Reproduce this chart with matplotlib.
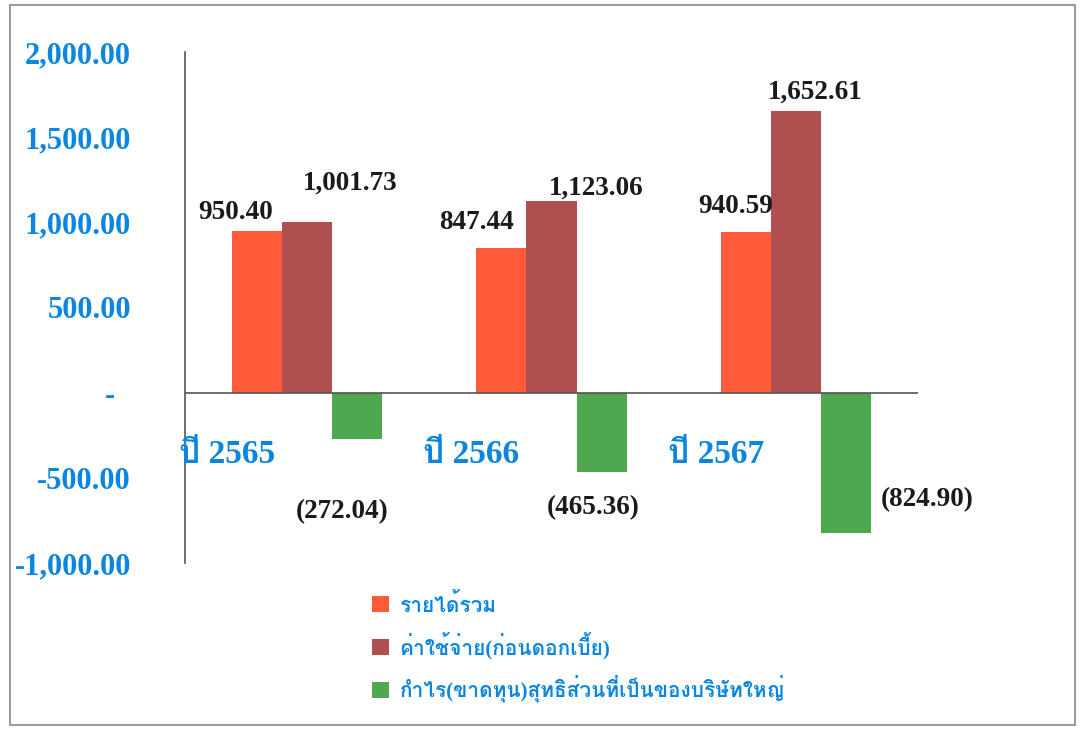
import matplotlib
matplotlib.use('Agg')
import matplotlib.pyplot as plt
from matplotlib import font_manager
from matplotlib.ft2font import FT2Font
from matplotlib.patches import Rectangle
import numpy as np

years = ['ปี 2565', 'ปี 2566', 'ปี 2567']
series_names = ['รายได้รวม', 'ค่าใช้จ่าย(ก่อนดอกเบี้ย)', 'กำไร(ขาดทุน)สุทธิส่วนที่เป็นของบริษัทใหญ่']
revenue = [950.40, 847.44, 940.59]
expense = [1001.73, 1123.06, 1652.61]
profit = [-272.04, -465.36, -824.90]
yticks = [-1000, -500, 0, 500, 1000, 1500, 2000]
ytick_labels = ['-1,000.00', '-500.00', '-  ', '500.00', '1,000.00', '1,500.00', '2,000.00']

colors = ['#ff5a3a', '#b04f4f', '#4fa84f']
blue = '#0a86e0'

# find something that can draw thai
thai_fonts = []
for f in font_manager.fontManager.ttflist:
    try:
        if 0x0E1B in FT2Font(f.fname).get_charmap() and f.name not in thai_fonts:
            thai_fonts.append(f.name)
    except Exception:
        pass
fam = ['Liberation Serif'] + thai_fonts[:1] + ['DejaVu Sans']

fig = plt.figure(figsize=(10.8, 7.29), dpi=100)
ax = fig.add_axes([0.1713, 0.2277, 0.6787, 0.701])

x = np.arange(len(years))
w = 0.205
ax.bar(x - w, revenue, w, color=colors[0], label=series_names[0])
ax.bar(x, expense, w, color=colors[1], label=series_names[1])
ax.bar(x + w, profit, w, color=colors[2], label=series_names[2])

ax.set_xlim(-0.5, 2.5)
ax.set_ylim(-1000, 2000)
ax.axhline(0, color='#555555', lw=1.2)
for s in ['top', 'right', 'bottom']:
    ax.spines[s].set_visible(False)
ax.spines['left'].set_color('#555555')
ax.spines['left'].set_linewidth(1.2)
ax.set_xticks([])
ax.set_yticks(yticks)
ax.set_yticklabels(ytick_labels, fontfamily=fam, fontweight='bold', fontsize=22, color=blue)
ax.tick_params(axis='y', length=0, pad=39)

# label offsets in pixels (labels were nudged by hand in the original)
rev_off = [(-21, 18), (-25, 26), (-10, 26)]
exp_off = [(43, 39), (45, 13), (19, 19)]
pro_off = [(-15, -119), (-8, -115), (81, -107)]
k = 0.72
lbl = dict(fontfamily=fam, fontweight='bold', fontsize=19.5, color='#1a1a1a', ha='center', va='center',
           textcoords='offset points')
for i in range(3):
    ax.annotate(f'{revenue[i]:,.2f}', (x[i] - w, revenue[i]), xytext=(rev_off[i][0] * k, rev_off[i][1] * k), **lbl)
    ax.annotate(f'{expense[i]:,.2f}', (x[i], expense[i]), xytext=(exp_off[i][0] * k, exp_off[i][1] * k), **lbl)
    ax.annotate(f'({-profit[i]:,.2f})', (x[i] + w, 0), xytext=(pro_off[i][0] * k, pro_off[i][1] * k), **lbl)
    ax.text(x[i] - 0.525, -365, years[i], fontfamily=fam, fontweight='bold', fontsize=24, color=blue,
            ha='left', va='center')

leg = ax.legend(loc='upper left', bbox_to_anchor=(0.23, -0.023), frameon=False, handlelength=0.8, handleheight=0.8,
                labelspacing=0.75, handletextpad=0.5, prop={'family': fam, 'weight': 'bold', 'size': 15})
for t in leg.get_texts():
    t.set_color(blue)

fig.add_artist(Rectangle((0.009, 0.005), 0.986, 0.988, transform=fig.transFigure, fill=False, ec='#888888', lw=1.2))

fig.savefig('out.png', dpi=100)
